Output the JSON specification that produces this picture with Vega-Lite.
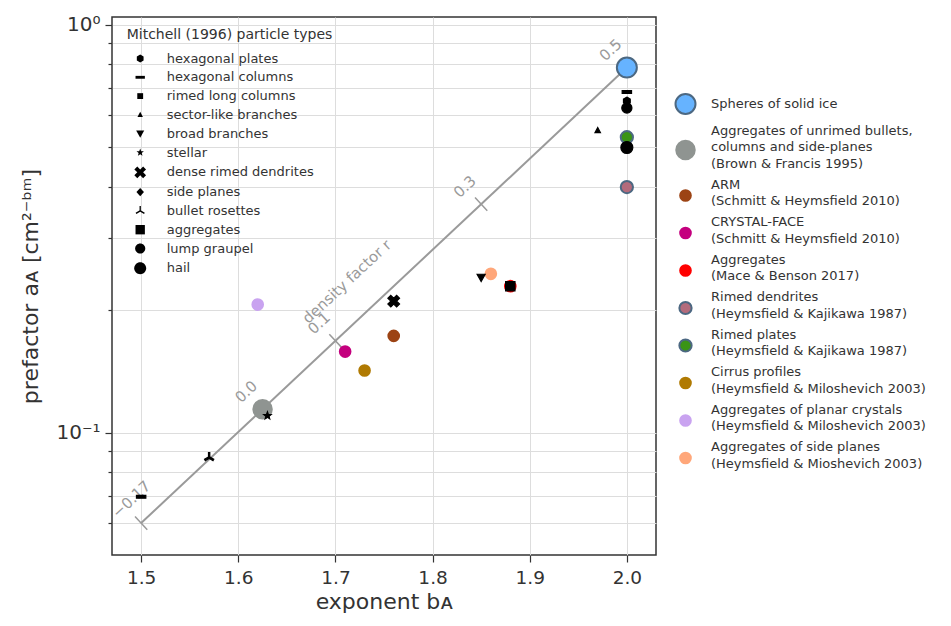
{
  "$schema": "https://vega.github.io/schema/vega-lite/v6.json",
  "width": 544,
  "height": 538,
  "autosize": {"type": "none"},
  "padding": {"left": 112, "top": 17, "right": 295, "bottom": 71},
  "background": "white",
  "config": {
    "font": "DejaVu Sans",
    "view": {"stroke": "#333333", "strokeWidth": 1.5},
    "axis": {
      "domain": false,
      "gridColor": "#dddddd",
      "gridWidth": 1,
      "tickColor": "#333333",
      "tickWidth": 1.2,
      "labelColor": "#333333",
      "titleColor": "#333333",
      "labelFont": "DejaVu Sans",
      "titleFont": "DejaVu Sans",
      "titleFontWeight": "normal",
      "labelFontSize": 18.5,
      "titleFontSize": 22
    },
    "legend": {
      "labelFont": "DejaVu Sans",
      "titleFont": "DejaVu Sans",
      "labelColor": "#333333",
      "titleColor": "#333333"
    }
  },
  "datasets": {
    "line": [
      {"b": 1.5, "a": 0.0600},
      {"b": 2.0, "a": 0.7852}
    ],
    "ticks": [
      {"b": 1.4937, "a": 0.06227, "b2": 1.5063, "a2": 0.05781},
      {"b": 1.6187, "a": 0.11842, "b2": 1.6313, "a2": 0.10994},
      {"b": 1.6937, "a": 0.17426, "b2": 1.7063, "a2": 0.16177},
      {"b": 1.8437, "a": 0.37686, "b2": 1.8563, "a2": 0.34985},
      {"b": 1.9937, "a": 0.81496, "b2": 2.0063, "a2": 0.75653}
    ],
    "rlabels": [
      {"b": 1.5, "a": 0.0600, "r": "−0.17"},
      {"b": 1.625, "a": 0.1141, "r": "0.0"},
      {"b": 1.7, "a": 0.1679, "r": "0.1"},
      {"b": 1.85, "a": 0.3631, "r": "0.3"},
      {"b": 2.0, "a": 0.7852, "r": "0.5"}
    ],
    "dlabel": [
      {"b": 1.737, "a": 0.2021, "t": "density factor r"}
    ],
    "studies": [
      {"source": "Spheres of solid ice", "b": 2.0, "a": 0.785},
      {"source": "Aggregates of unrimed bullets,|columns and side-planes|(Brown & Francis 1995)", "b": 1.625, "a": 0.1141},
      {"source": "ARM|(Schmitt & Heymsfield 2010)", "b": 1.76, "a": 0.1726},
      {"source": "CRYSTAL-FACE|(Schmitt & Heymsfield 2010)", "b": 1.71, "a": 0.158},
      {"source": "Aggregates|(Mace & Benson 2017)", "b": 1.88, "a": 0.2285},
      {"source": "Rimed dendrites|(Heymsfield & Kajikawa 1987)", "b": 2.0, "a": 0.40},
      {"source": "Rimed plates|(Heymsfield & Kajikawa 1987)", "b": 2.0, "a": 0.53},
      {"source": "Cirrus profiles|(Heymsfield & Miloshevich 2003)", "b": 1.73, "a": 0.142},
      {"source": "Aggregates of planar crystals|(Heymsfield & Miloshevich 2003)", "b": 1.62, "a": 0.206},
      {"source": "Aggregates of side planes|(Heymsfield & Mioshevich 2003)", "b": 1.86, "a": 0.245}
    ],
    "mitchell": [
      {"mtype": "hexagonal plates", "b": 2.0, "a": 0.65},
      {"mtype": "hexagonal columns", "b": 2.0, "a": 0.684},
      {"mtype": "hexagonal columns", "b": 1.5, "a": 0.0696},
      {"mtype": "rimed long columns", "b": 1.414, "a": 0.0512},
      {"mtype": "sector-like branches", "b": 1.97, "a": 0.55},
      {"mtype": "broad branches", "b": 1.85, "a": 0.24},
      {"mtype": "stellar", "b": 1.63, "a": 0.11},
      {"mtype": "dense rimed dendrites", "b": 1.76, "a": 0.21},
      {"mtype": "side planes", "b": 1.88, "a": 0.2285},
      {"mtype": "bullet rosettes", "b": 1.57, "a": 0.0869},
      {"mtype": "aggregates", "b": 1.88, "a": 0.2285},
      {"mtype": "lump graupel", "b": 2.0, "a": 0.625},
      {"mtype": "hail", "b": 2.0, "a": 0.5}
    ]
  },
  "encoding": {
    "x": {
      "field": "b",
      "type": "quantitative",
      "scale": {"domain": [1.47, 2.03], "nice": false, "zero": false},
      "axis": {
        "values": [1.5, 1.6, 1.7, 1.8, 1.9, 2.0],
        "format": ".1f",
        "tickSize": 7,
        "labelPadding": 6,
        "title": "exponent bᴀ",
        "titlePadding": 5,
        "grid": true
      }
    },
    "y": {
      "field": "a",
      "type": "quantitative",
      "scale": {"type": "log", "domain": [0.0501, 1.0445], "nice": false},
      "axis": {
        "values": [0.06, 0.07, 0.08, 0.09, 0.1, 0.2, 0.3, 0.4, 0.5, 0.6, 0.7, 0.8, 0.9, 1],
        "labelExpr": "abs(datum.value - 1) < 1e-9 ? '10⁰' : (abs(datum.value - 0.1) < 1e-9 ? '10⁻¹' : '')",
        "labelFontSize": 20,
        "tickSize": {"condition": {"test": "abs(datum.value - 1) < 1e-9 || abs(datum.value - 0.1) < 1e-9", "value": 7}, "value": 4},
        "labelPadding": 5,
        "title": "prefactor aᴀ [cm²⁻ᵇᵐ]",
        "titlePadding": 13,
        "grid": true
      }
    }
  },
  "layer": [
    {
      "data": {"name": "line"},
      "mark": {"type": "line", "color": "#9a9a9a", "strokeWidth": 2},
      "encoding": {}
    },
    {
      "data": {"name": "ticks"},
      "mark": {"type": "rule", "color": "#9a9a9a", "strokeWidth": 1.5},
      "encoding": {"x2": {"field": "b2"}, "y2": {"field": "a2"}}
    },
    {
      "data": {"name": "rlabels"},
      "transform": [{"filter": "datum.b > 1.55"}],
      "mark": {"type": "text", "angle": 317, "dy": -24, "align": "center", "baseline": "middle", "fontSize": 15, "color": "#9a9a9a", "font": "DejaVu Sans"},
      "encoding": {"text": {"field": "r"}}
    },
    {
      "data": {"name": "rlabels"},
      "transform": [{"filter": "datum.b < 1.55"}],
      "mark": {"type": "text", "angle": 317, "dy": -24, "dx": 9, "align": "center", "baseline": "middle", "fontSize": 15, "color": "#9a9a9a", "font": "DejaVu Sans"},
      "encoding": {"text": {"field": "r"}}
    },
    {
      "data": {"name": "dlabel"},
      "mark": {"type": "text", "angle": 317, "dy": -36, "align": "center", "baseline": "middle", "fontSize": 15, "color": "#9a9a9a", "font": "DejaVu Sans"},
      "encoding": {"text": {"field": "t"}}
    },
    {
      "data": {"name": "studies"},
      "mark": {"type": "point", "filled": true, "strokeWidth": 2, "opacity": 1},
      "encoding": {
        "fill": {
          "field": "source",
          "type": "nominal",
          "scale": {
            "domain": [
              "Spheres of solid ice",
              "Aggregates of unrimed bullets,|columns and side-planes|(Brown & Francis 1995)",
              "ARM|(Schmitt & Heymsfield 2010)",
              "CRYSTAL-FACE|(Schmitt & Heymsfield 2010)",
              "Aggregates|(Mace & Benson 2017)",
              "Rimed dendrites|(Heymsfield & Kajikawa 1987)",
              "Rimed plates|(Heymsfield & Kajikawa 1987)",
              "Cirrus profiles|(Heymsfield & Miloshevich 2003)",
              "Aggregates of planar crystals|(Heymsfield & Miloshevich 2003)",
              "Aggregates of side planes|(Heymsfield & Mioshevich 2003)"
            ],
            "range": ["#66b3ff", "#8f9491", "#9c4314", "#c4007e", "#ff0000", "#b36b7c", "#3a9415", "#b07a02", "#c9a3f0", "#ffa77a"]
          },
          "legend": {
            "title": null,
            "orient": "none",
            "direction": "vertical",
            "legendX": 562,
            "legendY": 76,
            "padding": 0,
            "labelExpr": "split(datum.label, '|')",
            "labelFontSize": 13,
            "labelLimit": 400,
            "labelOffset": 14,
            "rowPadding": 6.5,
            "symbolStrokeWidth": 2,
            "symbolOpacity": 1,
            "encode": {
              "labels": {
                "update": {
                  "lineHeight": {"value": 16.3},
                  "dy": {"signal": "length(split(datum.label, '|')) > 1 ? -(length(split(datum.label, '|')) - 1) * 8.15 - 2.5 : 0"}
                }
              }
            }
          }
        },
        "stroke": {
          "field": "source",
          "type": "nominal",
          "scale": {
            "domain": [
              "Spheres of solid ice",
              "Aggregates of unrimed bullets,|columns and side-planes|(Brown & Francis 1995)",
              "ARM|(Schmitt & Heymsfield 2010)",
              "CRYSTAL-FACE|(Schmitt & Heymsfield 2010)",
              "Aggregates|(Mace & Benson 2017)",
              "Rimed dendrites|(Heymsfield & Kajikawa 1987)",
              "Rimed plates|(Heymsfield & Kajikawa 1987)",
              "Cirrus profiles|(Heymsfield & Miloshevich 2003)",
              "Aggregates of planar crystals|(Heymsfield & Miloshevich 2003)",
              "Aggregates of side planes|(Heymsfield & Mioshevich 2003)"
            ],
            "range": ["#4c6882", "transparent", "transparent", "transparent", "transparent", "#4c6882", "#4c6882", "transparent", "transparent", "transparent"]
          }
        },
        "size": {
          "field": "source",
          "type": "nominal",
          "scale": {
            "type": "ordinal",
            "domain": [
              "Spheres of solid ice",
              "Aggregates of unrimed bullets,|columns and side-planes|(Brown & Francis 1995)",
              "ARM|(Schmitt & Heymsfield 2010)",
              "CRYSTAL-FACE|(Schmitt & Heymsfield 2010)",
              "Aggregates|(Mace & Benson 2017)",
              "Rimed dendrites|(Heymsfield & Kajikawa 1987)",
              "Rimed plates|(Heymsfield & Kajikawa 1987)",
              "Cirrus profiles|(Heymsfield & Miloshevich 2003)",
              "Aggregates of planar crystals|(Heymsfield & Miloshevich 2003)",
              "Aggregates of side planes|(Heymsfield & Mioshevich 2003)"
            ],
            "range": [400, 420, 160, 160, 160, 150, 150, 160, 160, 160]
          }
        }
      }
    },
    {
      "data": {"name": "mitchell"},
      "mark": {"type": "point", "filled": true, "color": "#000000", "stroke": "#000000", "strokeWidth": 1.2, "size": 169, "opacity": 1, "clip": true},
      "encoding": {
        "shape": {
          "field": "mtype",
          "type": "nominal",
          "scale": {
            "domain": ["hexagonal plates", "hexagonal columns", "rimed long columns", "sector-like branches", "broad branches", "stellar", "dense rimed dendrites", "side planes", "bullet rosettes", "aggregates", "lump graupel", "hail"],
            "range": [
              "M0,-0.6L0.52,-0.3L0.52,0.3L0,0.6L-0.52,0.3L-0.52,-0.3Z",
              "M-0.72,-0.22L0.72,-0.22L0.72,0.22L-0.72,0.22Z",
              "M-0.45,-0.45L0.45,-0.45L0.45,0.45L-0.45,0.45Z",
              "M0,-0.48L0.42,0.32L-0.42,0.32Z",
              "M-0.62,-0.5L0.62,-0.5L0,0.62Z",
              "M0,-0.6L0.147,-0.202L0.57,-0.186L0.238,0.077L0.353,0.486L0,0.25L-0.353,0.486L-0.238,0.077L-0.57,-0.186L-0.147,-0.202Z",
              "M-0.45,-0.9L0,-0.45L0.45,-0.9L0.9,-0.45L0.45,0L0.9,0.45L0.45,0.9L0,0.45L-0.45,0.9L-0.9,0.45L-0.45,0L-0.9,-0.45Z",
              "M0,-0.64L0.58,0L0,0.64L-0.58,0Z",
              "M-0.1,0.06L-0.1,-0.75L0.1,-0.75L0.1,0.06ZM0.06,0.104L-0.59,0.479L-0.71,0.271L-0.06,-0.104ZM0.06,-0.104L0.71,0.271L0.59,0.479L-0.06,0.104Z",
              "M-0.72,-0.72L0.72,-0.72L0.72,0.72L-0.72,0.72Z",
              "M0.78,0A0.78,0.78,0,1,1,-0.78,0A0.78,0.78,0,1,1,0.78,0Z",
              "M0.92,0A0.92,0.92,0,1,1,-0.92,0A0.92,0.92,0,1,1,0.92,0Z"
            ]
          },
          "legend": {
            "title": "Mitchell (1996) particle types",
            "titleLimit": 400,
            "orient": "none",
            "direction": "vertical",
            "legendX": 14.7,
            "legendY": 11,
            "padding": 0,
            "titleFontSize": 14,
            "titleFontWeight": "normal",
            "titlePadding": 9,
            "labelFontSize": 13,
            "labelLimit": 300,
            "labelOffset": 19,
            "symbolOffset": 6,
            "rowPadding": 3.8,
            "symbolSize": 169,
            "symbolFillColor": "#000000",
            "symbolStrokeColor": "#000000",
            "symbolStrokeWidth": 1.2,
            "symbolOpacity": 1
          }
        }
      }
    }
  ]
}
